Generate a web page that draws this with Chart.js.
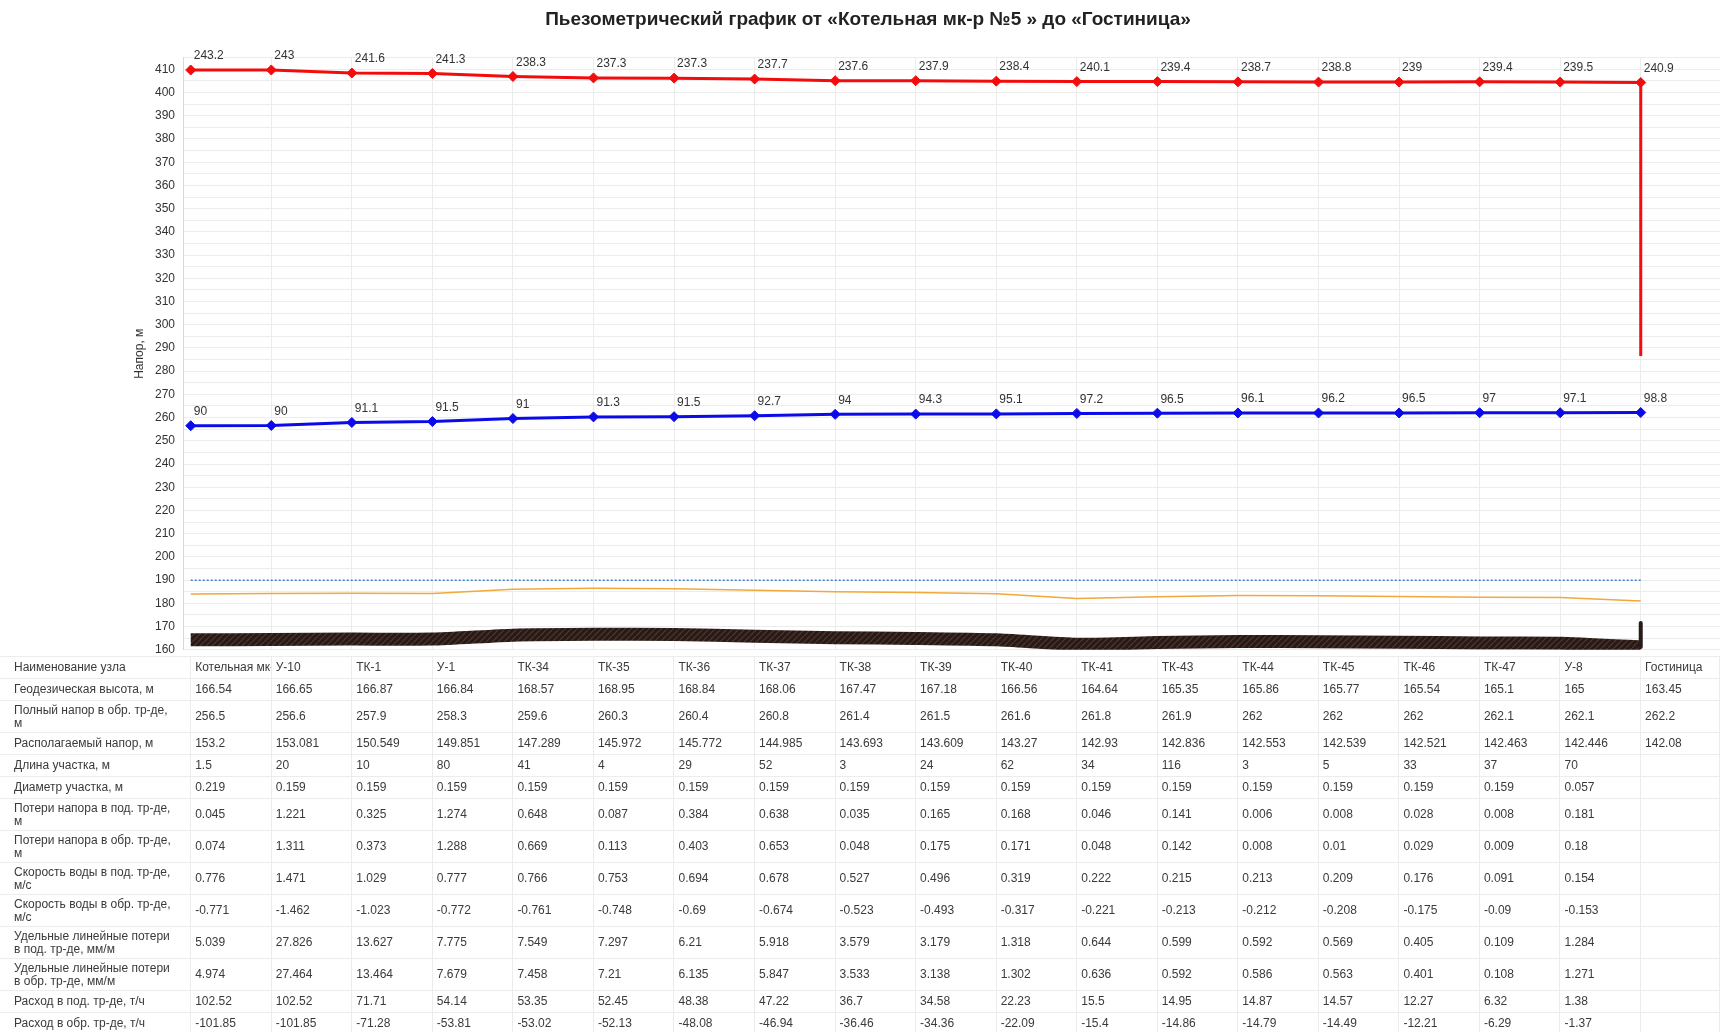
<!DOCTYPE html>
<html lang="ru">
<head>
<meta charset="utf-8">
<title>Пьезометрический график</title>
<script src="https://cdn.jsdelivr.net/npm/chart.js@4.4.1/dist/chart.umd.min.js"></script>
<style>
  body { margin: 0; background: #fff; width: 1720px; height: 1032px; overflow: hidden; position: relative;
         font-family: "Liberation Sans", Arial, sans-serif; }
  #chart { position: absolute; left: 0; top: 0; }
  #data { position: absolute; left: 0; top: 656px; width: 1720px; border-collapse: collapse; table-layout: fixed;
          font-size: 12px; color: #3a3a3a; }
  #data td { border: 1px solid #ececec; padding: 0 4px; white-space: nowrap; overflow: hidden;
             vertical-align: middle; line-height: 13px; }
  #data td:first-child { padding-left: 14px; border-left: none; }
  #data tr { height: 22px; }
  #data tr.tall { height: 32px; }
</style>
</head>
<body>
<canvas id="chart" width="1720" height="665"></canvas>
<table id="data"></table>

<script>
const chartTitle = "Пьезометрический график от «Котельная мк-р №5 » до «Гостиница»";

const nodes = ["Котельная мк-р №5", "У-10", "ТК-1", "У-1", "ТК-34", "ТК-35", "ТК-36", "ТК-37", "ТК-38", "ТК-39",
  "ТК-40", "ТК-41", "ТК-43", "ТК-44", "ТК-45", "ТК-46", "ТК-47", "У-8", "Гостиница"];

const geoHeight = [166.54, 166.65, 166.87, 166.84, 168.57, 168.95, 168.84, 168.06, 167.47, 167.18, 166.56, 164.64,
  165.35, 165.86, 165.77, 165.54, 165.1, 165, 163.45];
const returnHead = [256.5, 256.6, 257.9, 258.3, 259.6, 260.3, 260.4, 260.8, 261.4, 261.5, 261.6, 261.8, 261.9,
  262, 262, 262, 262.1, 262.1, 262.2];
const availHead = [153.2, 153.081, 150.549, 149.851, 147.289, 145.972, 145.772, 144.985, 143.693, 143.609, 143.27,
  142.93, 142.836, 142.553, 142.539, 142.521, 142.463, 142.446, 142.08];
const pipeLength = [1.5, 20, 10, 80, 41, 4, 29, 52, 3, 24, 62, 34, 116, 3, 5, 33, 37, 70, ""];
const pipeDiam = [0.219, 0.159, 0.159, 0.159, 0.159, 0.159, 0.159, 0.159, 0.159, 0.159, 0.159, 0.159, 0.159,
  0.159, 0.159, 0.159, 0.159, 0.057, ""];
const lossSupply = [0.045, 1.221, 0.325, 1.274, 0.648, 0.087, 0.384, 0.638, 0.035, 0.165, 0.168, 0.046, 0.141,
  0.006, 0.008, 0.028, 0.008, 0.181, ""];
const lossReturn = [0.074, 1.311, 0.373, 1.288, 0.669, 0.113, 0.403, 0.653, 0.048, 0.175, 0.171, 0.048, 0.142,
  0.008, 0.01, 0.029, 0.009, 0.18, ""];
const velSupply = [0.776, 1.471, 1.029, 0.777, 0.766, 0.753, 0.694, 0.678, 0.527, 0.496, 0.319, 0.222, 0.215,
  0.213, 0.209, 0.176, 0.091, 0.154, ""];
const velReturn = [-0.771, -1.462, -1.023, -0.772, -0.761, -0.748, -0.69, -0.674, -0.523, -0.493, -0.317, -0.221,
  -0.213, -0.212, -0.208, -0.175, -0.09, -0.153, ""];
const specSupply = [5.039, 27.826, 13.627, 7.775, 7.549, 7.297, 6.21, 5.918, 3.579, 3.179, 1.318, 0.644, 0.599,
  0.592, 0.569, 0.405, 0.109, 1.284, ""];
const specReturn = [4.974, 27.464, 13.464, 7.679, 7.458, 7.21, 6.135, 5.847, 3.533, 3.138, 1.302, 0.636, 0.592,
  0.586, 0.563, 0.401, 0.108, 1.271, ""];
const flowSupply = [102.52, 102.52, 71.71, 54.14, 53.35, 52.45, 48.38, 47.22, 36.7, 34.58, 22.23, 15.5, 14.95,
  14.87, 14.57, 12.27, 6.32, 1.38, ""];
const flowReturn = [-101.85, -101.85, -71.28, -53.81, -53.02, -52.13, -48.08, -46.94, -36.46, -34.36, -22.09,
  -15.4, -14.86, -14.79, -14.49, -12.21, -6.29, -1.37, ""];

// plotted lines
const supplyHead = [409.7, 409.7, 408.4, 408.2, 406.9, 406.3, 406.2, 405.8, 405.1, 405.1, 404.9, 404.7, 404.7,
  404.6, 404.5, 404.5, 404.6, 404.5, 404.3];
const supplyLabels = ["243.2", "243", "241.6", "241.3", "238.3", "237.3", "237.3", "237.7", "237.6", "237.9",
  "238.4", "240.1", "239.4", "238.7", "238.8", "239", "239.4", "239.5", "240.9"];
const returnLabels = ["90", "90", "91.1", "91.5", "91", "91.3", "91.5", "92.7", "94", "94.3", "95.1", "97.2",
  "96.5", "96.1", "96.2", "96.5", "97", "97.1", "98.8"];
const supplyDrop = [404.3, 286.5];
const staticHead = [190, 190, 190, 190, 190, 190, 190, 190, 190, 190, 190, 190, 190, 190, 190, 190, 190, 190, 190];
const buildingLine = [184.0, 184.2, 184.4, 184.3, 186.1, 186.5, 186.3, 185.6, 185.0, 184.7, 184.1, 182.1, 182.9,
  183.4, 183.3, 183.0, 182.6, 182.5, 181.0];
const groundLine = [164.3, 164.4, 164.6, 164.6, 166.3, 166.7, 166.6, 165.8, 165.2, 164.9, 164.3, 162.4, 163.1,
  163.6, 163.5, 163.3, 162.9, 162.8, 161.2];
const groundStub = [161.2, 171.5];

const xIndex = nodes.map((_, i) => i);
const lastX = nodes.length - 1;
const pts = ys => ys.map((y, i) => ({ x: xIndex[i], y: y }));
const FONT = '"Liberation Sans", Arial, sans-serif';

function hatch() {
  const c = document.createElement("canvas");
  c.width = 6; c.height = 6;
  const g = c.getContext("2d");
  g.fillStyle = "#2a1a16";
  g.fillRect(0, 0, 6, 6);
  g.strokeStyle = "#4d3a34";
  g.lineWidth = 1.2;
  g.beginPath(); g.moveTo(0, 6); g.lineTo(6, 0); g.stroke();
  return g.createPattern(c, "repeat");
}

const pointLabels = {
  id: "pointLabels",
  afterDatasetsDraw(chart) {
    const ctx = chart.ctx;
    ctx.save();
    ctx.font = "12px " + FONT;
    ctx.fillStyle = "#333";
    ctx.textBaseline = "middle";
    chart.data.datasets.forEach((ds, i) => {
      if (!ds.valueLabels) return;
      chart.getDatasetMeta(i).data.forEach((pt, j) => {
        ctx.fillText(ds.valueLabels[j], pt.x + 3, pt.y - 14);
      });
    });
    ctx.restore();
  }
};

// title centred a bit right of the canvas middle, like the original
const titlePlugin = {
  id: "titlePlugin",
  afterDraw(chart) {
    const ctx = chart.ctx;
    ctx.save();
    ctx.font = "bold 19px " + FONT;
    ctx.fillStyle = "#222";
    ctx.textAlign = "center";
    ctx.textBaseline = "middle";
    ctx.fillText(chartTitle, 868, 20);
    ctx.restore();
  }
};

function buildTable() {
  const rows = [
    { label: "Наименование узла", values: nodes },
    { label: "Геодезическая высота, м", values: geoHeight },
    { label: "Полный напор в обр. тр-де,<br>м", values: returnHead, tall: true },
    { label: "Располагаемый напор, м", values: availHead },
    { label: "Длина участка, м", values: pipeLength },
    { label: "Диаметр участка, м", values: pipeDiam },
    { label: "Потери напора в под. тр-де,<br>м", values: lossSupply, tall: true },
    { label: "Потери напора в обр. тр-де,<br>м", values: lossReturn, tall: true },
    { label: "Скорость воды в под. тр-де,<br>м/с", values: velSupply, tall: true },
    { label: "Скорость воды в обр. тр-де,<br>м/с", values: velReturn, tall: true },
    { label: "Удельные линейные потери<br>в под. тр-де, мм/м", values: specSupply, tall: true },
    { label: "Удельные линейные потери<br>в обр. тр-де, мм/м", values: specReturn, tall: true },
    { label: "Расход в под. тр-де, т/ч", values: flowSupply },
    { label: "Расход в обр. тр-де, т/ч", values: flowReturn }
  ];
  const table = document.getElementById("data");
  let html = '<colgroup><col style="width:190.7px">';
  for (let i = 0; i < nodes.length - 1; i++) html += '<col style="width:80.56px">';
  html += "<col></colgroup>";
  rows.forEach(r => {
    html += "<tr" + (r.tall ? ' class="tall"' : "") + "><td>" + r.label + "</td>";
    r.values.forEach(v => { html += "<td>" + v + "</td>"; });
    html += "</tr>";
  });
  table.innerHTML = html;
}

function renderChart() {
  const ctx = document.getElementById("chart").getContext("2d");
  new Chart(ctx, {
    type: "line",
    data: {
      datasets: [
        {
          data: pts(supplyHead), valueLabels: supplyLabels,
          borderColor: "#f20c0c", backgroundColor: "#f20c0c", borderWidth: 3,
          pointStyle: "rectRot", pointRadius: 5, pointBorderWidth: 1
        },
        {
          data: pts(returnHead), valueLabels: returnLabels,
          borderColor: "#0b0bea", backgroundColor: "#0b0bea", borderWidth: 3,
          pointStyle: "rectRot", pointRadius: 5, pointBorderWidth: 1
        },
        {
          data: supplyDrop.map(y => ({ x: lastX, y: y })),
          borderColor: "#f20c0c", borderWidth: 3, pointRadius: 0
        },
        {
          data: pts(staticHead),
          borderColor: "#3a82d4", borderWidth: 1.5, borderDash: [2, 2], pointRadius: 0
        },
        {
          data: pts(buildingLine),
          borderColor: "#f2a83a", borderWidth: 1.5, pointRadius: 0
        },
        {
          data: groundStub.map(y => ({ x: lastX, y: y })),
          borderColor: "#2a1a16", borderWidth: 4, borderCapStyle: "round", pointRadius: 0
        },
        {
          data: pts(groundLine),
          borderColor: hatch(), borderWidth: 13, borderJoinStyle: "round", borderCapStyle: "butt",
          pointRadius: 0, tension: 0.2
        }
      ]
    },
    options: {
      responsive: false,
      animation: false,
      devicePixelRatio: 1,
      layout: { autoPadding: false, padding: { left: 125, right: 0, top: 57.7, bottom: 7.7 } },
      plugins: {
        legend: { display: false },
        tooltip: { enabled: false },
        title: { display: false }
      },
      scales: {
        x: {
          type: "linear",
          min: -0.096,
          max: 18.984,
          ticks: { display: false, stepSize: 1 },
          grid: { color: "#ececec", drawTicks: false },
          border: { display: false },
          afterFit: s => { s.height = 0; }
        },
        y: {
          min: 160,
          max: 415,
          ticks: {
            stepSize: 5,
            autoSkip: false,
            padding: 8,
            color: "#333",
            font: { family: FONT, size: 12 },
            callback: v => (v % 10 === 0 ? v : "")
          },
          grid: { color: "#ececec", drawTicks: false },
          border: { color: "#d8d8d8" },
          title: {
            display: true,
            text: "Напор, м",
            color: "#333",
            font: { family: FONT, size: 12 },
            padding: { top: 7, bottom: 0 }
          },
          afterFit: s => { s.width = 58; }
        }
      }
    },
    plugins: [pointLabels, titlePlugin]
  });
}

buildTable();
renderChart();
</script>
</body>
</html>
